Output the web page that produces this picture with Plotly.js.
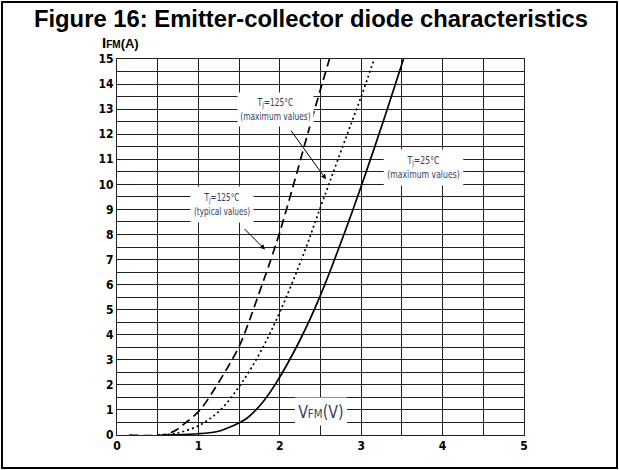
<!DOCTYPE html>
<html>
<head>
<meta charset="utf-8">
<script src="https://cdn.plot.ly/plotly-3.0.1.min.js"></script>
<style>
  html, body { margin: 0; padding: 0; background: #fff; }
  #chart { width: 619px; height: 470px; }
</style>
</head>
<body>
<div id="chart"></div>
<script>
// Tj = 125°C typical values (dashed)
const vTyp125 = [0.15, 0.57, 0.70, 0.81, 1.02, 1.22, 1.36, 1.51, 1.63, 1.75, 1.88, 2.00, 2.17, 2.35, 2.51, 2.61];
const iTyp125 = [0.00, 0.00, 0.15, 0.40, 1.00, 1.95, 2.70, 3.60, 4.60, 5.70, 6.90, 8.10, 10.00, 12.10, 13.90, 15.00];

// Tj = 125°C maximum values (dotted)
const vMax125 = [0.50, 0.73, 1.02, 1.27, 1.53, 1.76, 2.00, 2.29, 2.49, 2.67, 2.84, 3.00, 3.16];
const iMax125 = [0.00, 0.07, 0.40, 1.00, 2.07, 3.30, 4.90, 7.20, 9.00, 10.60, 12.10, 13.50, 15.00];

// Tj = 25°C maximum values (solid)
const vMax25 = [0.55, 1.00, 1.22, 1.35, 1.51, 1.60, 1.67, 1.80, 1.96, 2.25, 2.49, 2.78, 3.03, 3.30, 3.52];
const iMax25 = [0.00, 0.05, 0.13, 0.27, 0.50, 0.68, 0.88, 1.35, 2.10, 3.80, 5.50, 7.93, 10.20, 12.80, 15.00];

const xTickVals = [0, 1, 2, 3, 4, 5];
const xTickText = ['0', '1', '2', '3', '4', '5'];
const yTickVals = [0,1,2,3,4,5,6,7,8,9,10,11,12,13,14,15];
const yTickText = yTickVals.map(String);

const titleText = 'Figure 16: Emitter-collector diode characteristics';
const yTitleText = '<span style="font-size:15px">I</span><span style="font-size:10px">FM</span>(A)';
const xTitleText = 'V<span style="font-size:13px">FM</span>(V)';
const labelTyp125 = 'T<sub>J</sub>=125°C<br>(typical values)';
const labelMax125 = 'T<sub>J</sub>=125°C<br>(maximum values)';
const labelMax25 = 'T<sub>J</sub>=25°C<br>(maximum values)';

const narrow = 'DejaVu Sans Condensed, Liberation Sans Narrow, Liberation Sans, Arial, sans-serif';
const labelColor = '#34405e';

const traces = [
  { x: vTyp125, y: iTyp125, mode: 'lines', line: { color: '#000', width: 1.7, dash: '9px,5px', shape: 'spline', smoothing: 1 }, hoverinfo: 'skip' },
  { x: vMax125, y: iMax125, mode: 'lines', line: { color: '#000', width: 1.7, dash: '2px,3px', shape: 'spline', smoothing: 1 }, hoverinfo: 'skip' },
  { x: vMax25, y: iMax25, mode: 'lines', line: { color: '#000', width: 1.7, shape: 'spline', smoothing: 1 }, hoverinfo: 'skip' }
];

const gridCol = '#222';
const tickFont = { family: narrow, size: 12, color: '#000', weight: 'bold' };

const layout = {
  width: 619, height: 470,
  margin: { l: 117, r: 95, t: 59, b: 35, pad: 0 },
  paper_bgcolor: '#fff', plot_bgcolor: '#fff',
  showlegend: false,
  title: {
    text: titleText,
    font: { family: 'Liberation Sans, Arial, sans-serif', size: 23.8, color: '#000', weight: 'bold' },
    xref: 'container', x: 311 / 619, xanchor: 'center',
    yref: 'container', y: 1 - 19 / 470, yanchor: 'middle'
  },
  xaxis: {
    range: [0, 5], tickvals: xTickVals, ticktext: xTickText,
    showgrid: true, gridcolor: gridCol, gridwidth: 1,
    minor: { dtick: 0.5, showgrid: true, gridcolor: gridCol, gridwidth: 1 },
    showline: true, mirror: true, linecolor: '#222', linewidth: 1,
    ticks: '', zeroline: false, tickfont: tickFont, fixedrange: true
  },
  yaxis: {
    range: [0, 15], tickvals: yTickVals, ticktext: yTickText,
    showgrid: true, gridcolor: gridCol, gridwidth: 1,
    minor: { dtick: 0.5, showgrid: true, gridcolor: gridCol, gridwidth: 1 },
    showline: true, mirror: true, linecolor: '#222', linewidth: 1,
    ticks: '', zeroline: false, tickfont: tickFont, fixedrange: true
  },
  shapes: [
    { type: 'rect', xref: 'paper', yref: 'paper',
      x0: (2 - 117) / 407, x1: (617 - 117) / 407,
      y0: (435 - 468) / 376, y1: (435 - 2) / 376,
      line: { color: '#000', width: 2 } }
  ],
  annotations: [
    { xref: 'paper', yref: 'paper', x: (120 - 117) / 407, y: (435 - 53) / 376, xanchor: 'center', yanchor: 'bottom',
      text: yTitleText, showarrow: false, font: { family: 'Liberation Sans, Arial, sans-serif', size: 13, color: '#000', weight: 'bold' } },
    { x: 2.5, y: 0.92, text: xTitleText, showarrow: false, bgcolor: '#fff', borderpad: 3,
      font: { family: narrow, size: 18, color: labelColor } },
    { x: 1.29, y: 9.2, text: labelTyp125, showarrow: false, bgcolor: '#fff', borderpad: 4,
      font: { family: narrow, size: 11, color: labelColor } },
    { x: 1.95, y: 13.0, text: labelMax125, showarrow: false, bgcolor: '#fff', borderpad: 3,
      font: { family: narrow, size: 11, color: labelColor } },
    { x: 3.76, y: 10.68, text: labelMax25, showarrow: false, bgcolor: '#fff', borderpad: 4,
      font: { family: narrow, size: 11, color: labelColor } },
    { x: 1.818, y: 7.4, ax: 1.548, ay: 8.28, axref: 'x', ayref: 'y', text: '', showarrow: true,
      arrowhead: 2, arrowsize: 1, arrowwidth: 1, arrowcolor: '#000' },
    { x: 2.568, y: 10.2, ax: 2.125, ay: 12.2, axref: 'x', ayref: 'y', text: '', showarrow: true,
      arrowhead: 2, arrowsize: 1, arrowwidth: 1, arrowcolor: '#000' }
  ]
};

// horizontal squeeze factors to mimic the condensed lettering of the original labels
const squeeze = { 1: 0.88, 2: 0.74, 3: 0.76, 4: 0.78 };

Plotly.newPlot('chart', traces, layout, { staticPlot: true, displayModeBar: false }).then(gd => {
  gd.querySelectorAll('g.annotation').forEach(g => {
    const idx = g.getAttribute('data-index');
    const sx = squeeze[idx];
    if (!sx) return;
    const tg = g.querySelector('g.annotation-text-g');
    if (!tg) return;
    const bb = tg.getBBox();
    const cx = bb.x + bb.width / 2;
    const prev = tg.getAttribute('transform') || '';
    tg.setAttribute('transform', prev + ' translate(' + cx + ',0) scale(' + sx + ',1) translate(' + (-cx) + ',0)');
  });
});
</script>
</body>
</html>
